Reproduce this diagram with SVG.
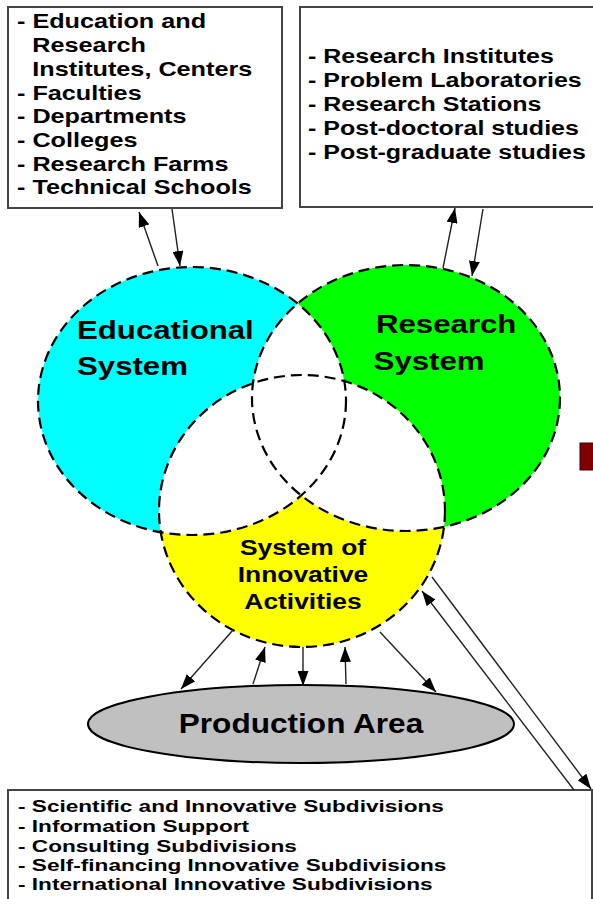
<svg xmlns="http://www.w3.org/2000/svg" xmlns:xlink="http://www.w3.org/1999/xlink" width="593" height="899" viewBox="0 0 593 899">
<style>
.box{fill:#fff;stroke:#444;stroke-width:2}
.t{font-family:"Liberation Sans",Arial,sans-serif;font-weight:bold;fill:#000}
.bt{font-size:20.5px}
.st{font-size:17px}
.dash{fill:none;stroke:#000;stroke-width:2.2;stroke-dasharray:11 6}
.con{stroke:#222;stroke-width:1.4;fill:none;marker-end:url(#ah)}
</style>
<defs>
<marker id="ah" viewBox="0 0 15 11" refX="15" refY="5.5" markerWidth="15" markerHeight="11" markerUnits="userSpaceOnUse" orient="auto">
<path d="M0,0 L15,5.5 L0,11 z" fill="#000"/>
</marker>
<ellipse id="eE" cx="192" cy="401" rx="154" ry="134"/>
<ellipse id="eR" cx="406" cy="398" rx="154" ry="133"/>
<ellipse id="eI" cx="302" cy="511" rx="143" ry="136"/>
<clipPath id="cE"><use xlink:href="#eE"/></clipPath>
<clipPath id="cR"><use xlink:href="#eR"/></clipPath>
</defs>
<rect width="593" height="899" fill="#fff"/>

<g id="edu-box">
<rect class="box" x="8" y="7" width="274" height="201"/>
<g class="t bt" transform="translate(17,0) scale(1.23,1)">
<text x="0" y="28">- Education and</text>
<text x="12.5" y="52">Research</text>
<text x="12.5" y="76">Institutes, Centers</text>
<text x="0" y="100">- Faculties</text>
<text x="0" y="123">- Departments</text>
<text x="0" y="147">- Colleges</text>
<text x="0" y="171">- Research Farms</text>
<text x="0" y="194">- Technical Schools</text>
</g>
</g>

<g id="research-box">
<rect class="box" x="300" y="7" width="310" height="200"/>
<g class="t bt" transform="translate(308,0) scale(1.22,1)">
<text x="0" y="63">- Research Institutes</text>
<text x="0" y="87">- Problem Laboratories</text>
<text x="0" y="111">- Research Stations</text>
<text x="0" y="135">- Post-doctoral studies</text>
<text x="0" y="159">- Post-graduate studies</text>
</g>
</g>

<g id="venn">
<use xlink:href="#eE" fill="#00ffff"/>
<use xlink:href="#eR" fill="#00ff00"/>
<use xlink:href="#eI" fill="#ffff00"/>
<use xlink:href="#eR" fill="#fff" clip-path="url(#cE)"/>
<use xlink:href="#eI" fill="#fff" clip-path="url(#cE)"/>
<use xlink:href="#eI" fill="#fff" clip-path="url(#cR)"/>
</g>

<g id="educational-system">
<use xlink:href="#eE" class="dash"/>
<g class="t" font-size="26" transform="translate(77,0) scale(1.2,1)">
<text x="0" y="339">Educational</text>
<text x="0" y="375">System</text>
</g>
</g>

<g id="research-system">
<use xlink:href="#eR" class="dash"/>
<g class="t" font-size="26" transform="translate(376,0) scale(1.2,1)">
<text x="0" y="333">Research</text>
<text x="-2" y="370">System</text>
</g>
</g>

<g id="innovative-system">
<use xlink:href="#eI" class="dash"/>
<g class="t" font-size="22" text-anchor="middle" transform="translate(303,0) scale(1.2,1)">
<text x="0" y="555">System of</text>
<text x="0" y="582">Innovative</text>
<text x="0" y="609">Activities</text>
</g>
</g>

<g id="production-area">
<ellipse cx="301" cy="724" rx="213" ry="39" fill="#c0c0c0" stroke="#000" stroke-width="2"/>
<g class="t" font-size="27" text-anchor="middle" transform="translate(301,0) scale(1.17,1)">
<text x="0" y="733">Production Area</text>
</g>
</g>

<g id="subdivisions-box">
<rect class="box" x="8" y="790" width="584" height="120"/>
<g class="t st" transform="translate(18,0) scale(1.33,1)">
<text x="0" y="812">- Scientific and Innovative Subdivisions</text>
<text x="0" y="832">- Information Support</text>
<text x="0" y="852">- Consulting Subdivisions</text>
<text x="0" y="871">- Self-financing Innovative Subdivisions</text>
<text x="0" y="890">- International Innovative Subdivisions</text>
</g>
</g>

<rect id="marker-square" x="580" y="443" width="16" height="27" fill="#800000" stroke="#400000" stroke-width="1"/>

<g id="connectors">
<line class="con" x1="158" y1="266" x2="139" y2="212"/>
<line class="con" x1="172" y1="209" x2="180" y2="266"/>
<line class="con" x1="443" y1="268" x2="455" y2="208"/>
<line class="con" x1="483" y1="209" x2="472" y2="276"/>
<line class="con" x1="233" y1="630" x2="181" y2="689"/>
<line class="con" x1="253" y1="684" x2="265" y2="647"/>
<line class="con" x1="303" y1="647" x2="303" y2="686"/>
<line class="con" x1="346" y1="684" x2="345" y2="647"/>
<line class="con" x1="380" y1="632" x2="436" y2="692"/>
<line class="con" x1="574" y1="790" x2="422" y2="591"/>
<line class="con" x1="432" y1="577" x2="591" y2="789"/>
</g>
</svg>
